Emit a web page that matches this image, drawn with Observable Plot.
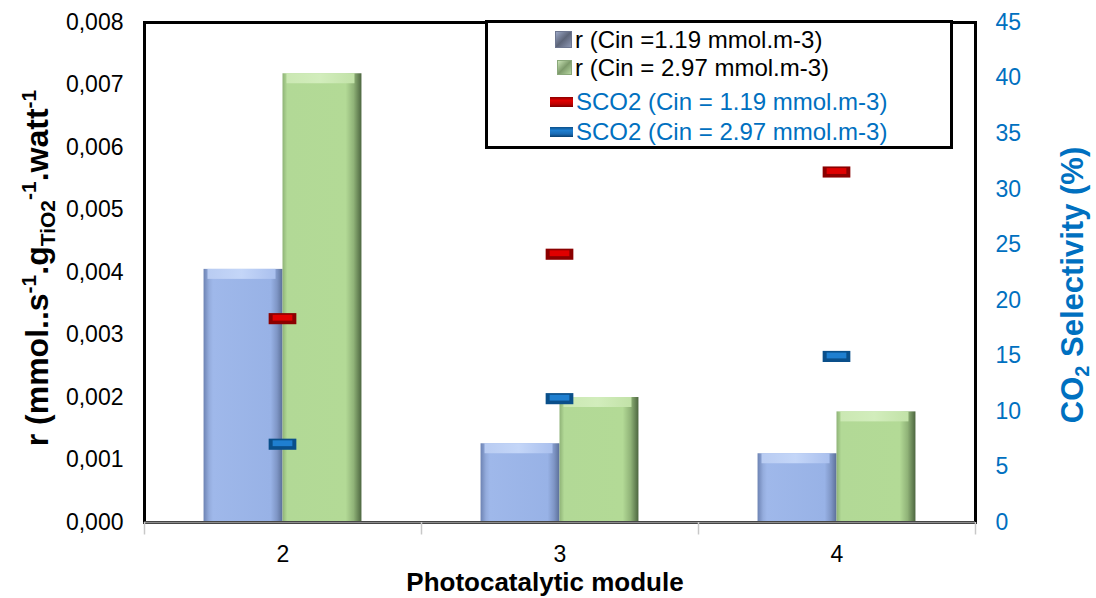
<!DOCTYPE html>
<html>
<head>
<meta charset="utf-8">
<script src="https://cdn.jsdelivr.net/npm/d3@7"></script>
<script src="https://cdn.jsdelivr.net/npm/@observablehq/plot@0.6"></script>
<style>
  body { margin: 0; background: #fff; font-family: "Liberation Sans", Arial, sans-serif; }
  #wrap { position: relative; width: 1096px; height: 598px; }
  #legend { position: absolute; left: 485px; top: 20px; width: 462px; height: 123px; border: 3px solid #000; background: #fff; }
  .li { position: absolute; font-size: 24px; line-height: 26px; white-space: nowrap; }
  .sw { display: inline-block; vertical-align: middle; margin-right: 3px; position: relative; top: -2px; }
</style>
</head>
<body>
<div id="wrap"></div>
<script>
// ---- data ----
const categories = [2, 3, 4];
const rateLow = [0.00405, 0.00126, 0.00110];   // r (Cin = 1.19 mmol.m-3)
const rateHigh = [0.00718, 0.00200, 0.00177];  // r (Cin = 2.97 mmol.m-3)
const selLow = [18.3, 24.1, 31.5];             // SCO2 (Cin = 1.19)
const selHigh = [7.0, 11.1, 14.9];             // SCO2 (Cin = 2.97)
const leftTicks = [0, 0.001, 0.002, 0.003, 0.004, 0.005, 0.006, 0.007, 0.008];
const rightTicks = [0, 5, 10, 15, 20, 25, 30, 35, 40, 45];
const seriesNames = ["r (Cin =1.19 mmol.m-3)", "r (Cin = 2.97 mmol.m-3)", "SCO2 (Cin = 1.19 mmol.m-3)", "SCO2 (Cin = 2.97 mmol.m-3)"];

const yMax = 0.008, sMax = 45, k = yMax / sMax;
const bw = 0.285;       // bar width (x units)
const mw = 0.05;        // marker half width
const mh = 0.5;         // marker half height (selectivity units)
const blue = "#0070C0";
const ff = "'Liberation Sans', Arial, sans-serif";

const rowsLow = categories.map((c, i) => ({cat: c, v: rateLow[i]}));
const rowsHigh = categories.map((c, i) => ({cat: c, v: rateHigh[i]}));
const mLow = categories.map((c, i) => ({cat: c, s: selLow[i]}));
const mHigh = categories.map((c, i) => ({cat: c, s: selHigh[i]}));

const fmtL = d => d3.format(".3f")(d).replace(".", ",");

const plot = Plot.plot({
  width: 1096, height: 598,
  marginLeft: 144, marginRight: 121, marginTop: 22, marginBottom: 76,
  style: {fontFamily: ff, fontSize: "23px", background: "#fff"},
  x: {domain: [1.5, 4.5]},
  y: {domain: [0, yMax]},
  marks: [
    Plot.rectY(rowsLow, {x1: d => d.cat - bw, x2: d => d.cat, y1: 0, y2: "v", fill: "url(#gBlue)", inset: 0}),
    Plot.rectY(rowsHigh, {x1: d => d.cat, x2: d => d.cat + bw, y1: 0, y2: "v", fill: "url(#gGreen)", inset: 0}),
    Plot.rectY(rowsLow, {x1: d => d.cat - bw, x2: d => d.cat, y1: d => d.v - 0.00016, y2: "v", fill: "url(#gBlueTop)", inset: 0, insetLeft: 4, insetRight: 7}),
    Plot.rectY(rowsHigh, {x1: d => d.cat, x2: d => d.cat + bw, y1: d => d.v - 0.00016, y2: "v", fill: "url(#gGreenTop)", inset: 0, insetLeft: 4, insetRight: 7}),
    Plot.frame({stroke: "#000", strokeWidth: 3}),
    Plot.ruleY([0], {stroke: "#8c8c8c", strokeWidth: 2}),
    Plot.ruleX([1.5, 2.5, 3.5, 4.5], {y1: 0, y2: -0.0002, stroke: "#c8c8c8", strokeWidth: 1.5}),
    // selectivity markers (right axis values scaled onto the left axis)
    Plot.rect(mLow, {x1: d => d.cat - mw, x2: d => d.cat + mw, y1: d => (d.s - mh) * k, y2: d => (d.s + mh) * k, fill: "#8b0000", inset: 0}),
    Plot.rect(mLow, {x1: d => d.cat - mw, x2: d => d.cat + mw, y1: d => (d.s - mh * 0.35) * k, y2: d => (d.s + mh * 0.7) * k, fill: "#e00000", inset: 0, insetLeft: 4, insetRight: 4}),
    Plot.rect(mHigh, {x1: d => d.cat - mw, x2: d => d.cat + mw, y1: d => (d.s - mh) * k, y2: d => (d.s + mh) * k, fill: "#0a4f8a", inset: 0}),
    Plot.rect(mHigh, {x1: d => d.cat - mw, x2: d => d.cat + mw, y1: d => (d.s - mh * 0.35) * k, y2: d => (d.s + mh * 0.7) * k, fill: "#1f7fd0", inset: 0, insetLeft: 4, insetRight: 4}),
    Plot.axisY(leftTicks, {anchor: "left", tickSize: 0, tickPadding: 21, tickFormat: fmtL, label: null, fill: "#000", fontSize: 23}),
    Plot.axisY(rightTicks.map(v => v * k), {anchor: "right", tickSize: 0, tickPadding: 20, tickFormat: d => Math.round(d / k), label: null, fill: blue, fontSize: 23}),
    Plot.axisX(categories, {tickSize: 0, tickPadding: 23, tickFormat: d => String(d), label: null, fill: "#000", fontSize: 23})
  ]
});

const svg = d3.select(plot);
const defs = svg.insert("defs", ":first-child");
function hgrad(id, stops) {
  const g = defs.append("linearGradient").attr("id", id).attr("x1", "0").attr("x2", "1").attr("y1", "0").attr("y2", "0");
  stops.forEach(([o, c]) => g.append("stop").attr("offset", o).attr("stop-color", c));
}
hgrad("gBlue", [[0, "#6d83b3"], [0.07, "#94acdd"], [0.12, "#9fb8ea"], [0.85, "#98b2e6"], [0.93, "#7f96c6"], [1, "#5b6f98"]]);
hgrad("gGreen", [[0, "#8fb377"], [0.06, "#b2d996"], [0.8, "#b3da96"], [0.9, "#90b378"], [1, "#4d6640"]]);
hgrad("gBlueTop", [[0, "#b9ccf2"], [0.5, "#c4d6f8"], [1, "#aac0ee"]]);
hgrad("gGreenTop", [[0, "#cbe8b3"], [0.5, "#d2edbc"], [1, "#c2e2a8"]]);

// axis titles
svg.append("text").attr("x", 545).attr("y", 591).attr("text-anchor", "middle")
  .attr("font-family", ff).attr("font-weight", "bold").attr("font-size", 26).text("Photocatalytic module");

const lt = svg.append("text").attr("transform", "translate(48,268) rotate(-90)").attr("text-anchor", "middle")
  .attr("font-family", ff).attr("font-weight", "bold").attr("font-size", 32).attr("fill", "#000");
lt.append("tspan").text("r (mmol..s");
lt.append("tspan").attr("dy", -12).attr("font-size", 21).text("-1");
lt.append("tspan").attr("dy", 12).text(".g");
lt.append("tspan").attr("dy", 7).attr("font-size", 21).text("TiO2");
lt.append("tspan").attr("dy", -19).attr("font-size", 21).text("-1");
lt.append("tspan").attr("dy", 12).text(".watt");
lt.append("tspan").attr("dy", -12).attr("font-size", 21).text("-1");

const rt = svg.append("text").attr("transform", "translate(1083,285) rotate(-90)").attr("text-anchor", "middle")
  .attr("font-family", ff).attr("font-weight", "bold").attr("font-size", 31).attr("fill", blue);
rt.append("tspan").text("CO");
rt.append("tspan").attr("dy", 6).attr("font-size", 20).text("2");
rt.append("tspan").attr("dy", -6).text(" Selectivity (%)");

const wrap = document.getElementById("wrap");
wrap.appendChild(plot);

// legend
const legend = document.createElement("div");
legend.id = "legend";
const swatches = [
  'width:15px;height:15px;background:linear-gradient(135deg,#9aa6c4,#5c6478 50%,#8d97b3);border:1px solid #6d7690;',
  'width:13px;height:13px;background:linear-gradient(135deg,#c9e3b5,#7d9a6b 50%,#b6d6a0);border:1px solid #8aa87a;',
  'width:23px;height:10px;background:linear-gradient(#8b0000,#e00000 35%,#c00000 70%,#7a0000);',
  'width:23px;height:10px;background:linear-gradient(#0a4f8a,#1f7fd0 35%,#1a6cb5 70%,#0a4070);'
];
const tops = [4, 32, 66, 96];
const lefts = [67, 69, 62, 62];
const colors = ["#000", "#000", blue, blue];
seriesNames.forEach((name, i) => {
  const row = document.createElement("div");
  row.className = "li";
  row.style.top = tops[i] + "px";
  row.style.left = lefts[i] + "px";
  row.style.color = colors[i];
  row.innerHTML = `<span class="sw" style="${swatches[i]}"></span>${name}`;
  legend.appendChild(row);
});
wrap.appendChild(legend);
</script>
</body>
</html>
